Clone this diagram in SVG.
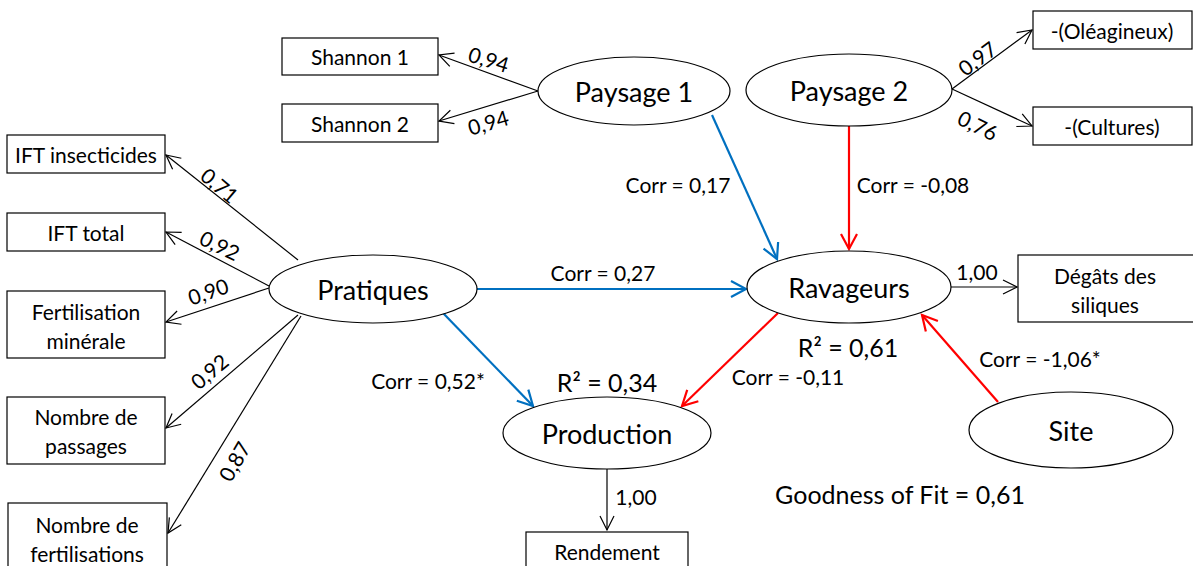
<svg xmlns="http://www.w3.org/2000/svg" width="1193" height="566" viewBox="0 0 1193 566">
  <style>
    text { font-family: Lato, "Open Sans", "Liberation Sans", sans-serif; fill: #000; text-anchor: middle; dominant-baseline: central; }
    .latent ellipse { fill: #fff; stroke: #000; stroke-width: 1.2; }
    .latent text { font-size: 27px; }
    .manifest rect { fill: #fff; stroke: #000; stroke-width: 1.2; }
    .manifest text { font-size: 21px; }
    .load { stroke: #000; stroke-width: 1.2; fill: none; marker-end: url(#arrowK); }
    .pos { stroke: #0070C0; stroke-width: 2.2; fill: none; marker-end: url(#arrowB); }
    .neg { stroke: #FF0000; stroke-width: 2.2; fill: none; marker-end: url(#arrowR); }
    .lbl { font-size: 21px; }
    .big { font-size: 25px; }
  </style>
  <defs>
    <marker id="arrowK" markerUnits="userSpaceOnUse" viewBox="-16 -9 18 18" markerWidth="18" markerHeight="18" refX="0" refY="0" orient="auto" overflow="visible">
      <path d="M-14,-7 L0,0 L-14,7" fill="none" stroke="#000" stroke-width="1.2"/>
    </marker>
    <marker id="arrowB" markerUnits="userSpaceOnUse" viewBox="-16 -9 18 18" markerWidth="18" markerHeight="18" refX="0" refY="0" orient="auto" overflow="visible">
      <path d="M-15,-8 L0,0 L-15,8" fill="none" stroke="#0070C0" stroke-width="2.2"/>
    </marker>
    <marker id="arrowR" markerUnits="userSpaceOnUse" viewBox="-16 -9 18 18" markerWidth="18" markerHeight="18" refX="0" refY="0" orient="auto" overflow="visible">
      <path d="M-15,-8 L0,0 L-15,8" fill="none" stroke="#FF0000" stroke-width="2.2"/>
    </marker>
  </defs>

  <rect width="1193" height="566" fill="#fff"/>

  <!-- connectors -->
  <g id="connectors">
    <!-- Paysage 1 loadings -->
    <line class="load" x1="538" y1="91" x2="439" y2="55"/>
    <line class="load" x1="538" y1="91" x2="439" y2="121"/>
    <!-- Paysage 2 loadings -->
    <line class="load" x1="952" y1="89" x2="1032" y2="30"/>
    <line class="load" x1="952" y1="89" x2="1032" y2="126"/>
    <!-- Pratiques loadings -->
    <line class="load" x1="298" y1="260" x2="166" y2="155"/>
    <line class="load" x1="269" y1="286" x2="166" y2="232"/>
    <line class="load" x1="269" y1="288" x2="166" y2="322"/>
    <line class="load" x1="298" y1="315" x2="166" y2="428"/>
    <line class="load" x1="301" y1="316" x2="168" y2="533"/>
    <!-- Ravageurs / Production measures -->
    <line class="load" x1="951" y1="287" x2="1017" y2="287"/>
    <line class="load" x1="607" y1="469" x2="607" y2="530"/>
    <!-- structural paths -->
    <line class="pos" x1="712" y1="115" x2="777" y2="259"/>
    <line class="neg" x1="849" y1="126" x2="849" y2="249"/>
    <line class="pos" x1="477" y1="289" x2="746" y2="289"/>
    <line class="pos" x1="443" y1="313" x2="533" y2="406"/>
    <line class="neg" x1="778" y1="313" x2="682" y2="406"/>
    <line class="neg" x1="998" y1="402" x2="922" y2="315"/>
  </g>

  <!-- connector labels -->
  <g id="labels">
    <text class="lbl" transform="translate(489,59) rotate(17)">0,94</text>
    <text class="lbl" transform="translate(488,122) rotate(-16)">0,94</text>
    <text class="lbl" transform="translate(977,58) rotate(-37)">0,97</text>
    <text class="lbl" transform="translate(978,125) rotate(26)">0,76</text>
    <text class="lbl" transform="translate(220,185) rotate(40)">0,71</text>
    <text class="lbl" transform="translate(220,245) rotate(26)">0,92</text>
    <text class="lbl" transform="translate(208,291) rotate(-19)">0,90</text>
    <text class="lbl" transform="translate(209,371) rotate(-40)">0,92</text>
    <text class="lbl" transform="translate(234,461) rotate(-60)">0,87</text>
    <text class="lbl" x="678" y="184">Corr = 0,17</text>
    <text class="lbl" x="913" y="184">Corr = -0,08</text>
    <text class="lbl" x="603" y="272">Corr = 0,27</text>
    <text class="lbl" x="977" y="271">1,00</text>
    <text class="lbl" x="1040" y="358">Corr = -1,06*</text>
    <text class="lbl" x="788" y="376">Corr = -0,11</text>
    <text class="lbl" x="428" y="380">Corr = 0,52*</text>
    <text class="lbl" x="636" y="496">1,00</text>
    <text class="big" x="848" y="347">R² = 0,61</text>
    <text class="big" x="607" y="382">R² = 0,34</text>
    <text class="big" x="900" y="494">Goodness of Fit = 0,61</text>
  </g>

  <!-- latent variables -->
  <g id="paysage1" class="latent">
    <ellipse cx="634" cy="91" rx="96" ry="34"/>
    <text x="634" y="91">Paysage 1</text>
  </g>
  <g id="paysage2" class="latent">
    <ellipse cx="849" cy="90" rx="103" ry="36"/>
    <text x="849" y="90">Paysage 2</text>
  </g>
  <g id="pratiques" class="latent">
    <ellipse cx="373" cy="289" rx="104" ry="34"/>
    <text x="373" y="289">Pratiques</text>
  </g>
  <g id="ravageurs" class="latent">
    <ellipse cx="849" cy="287" rx="102" ry="36"/>
    <text x="849" y="287">Ravageurs</text>
  </g>
  <g id="production" class="latent">
    <ellipse cx="607" cy="433" rx="104" ry="36"/>
    <text x="607" y="433">Production</text>
  </g>
  <g id="site" class="latent">
    <ellipse cx="1071" cy="430" rx="102" ry="38"/>
    <text x="1071" y="430">Site</text>
  </g>

  <!-- manifest variables -->
  <g id="shannon1" class="manifest">
    <rect x="282" y="38" width="156" height="37"/>
    <text x="360" y="56">Shannon 1</text>
  </g>
  <g id="shannon2" class="manifest">
    <rect x="282" y="104" width="156" height="38"/>
    <text x="360" y="123">Shannon 2</text>
  </g>
  <g id="oleagineux" class="manifest">
    <rect x="1033" y="11" width="159" height="38"/>
    <text x="1112" y="30">-(Oléagineux)</text>
  </g>
  <g id="cultures" class="manifest">
    <rect x="1033" y="107" width="159" height="38"/>
    <text x="1112" y="126">-(Cultures)</text>
  </g>
  <g id="ift-insecticides" class="manifest">
    <rect x="7" y="135" width="158" height="38"/>
    <text x="86" y="154">IFT insecticides</text>
  </g>
  <g id="ift-total" class="manifest">
    <rect x="7" y="213" width="158" height="38"/>
    <text x="86" y="232">IFT total</text>
  </g>
  <g id="fertilisation-minerale" class="manifest">
    <rect x="7" y="291" width="158" height="67"/>
    <text x="86" y="311">Fertilisation</text>
    <text x="86" y="340">minérale</text>
  </g>
  <g id="nombre-passages" class="manifest">
    <rect x="7" y="397" width="158" height="67"/>
    <text x="86" y="416">Nombre de</text>
    <text x="86" y="445">passages</text>
  </g>
  <g id="nombre-fertilisations" class="manifest">
    <rect x="8" y="503" width="159" height="70"/>
    <text x="87" y="524">Nombre de</text>
    <text x="87" y="553">fertilisations</text>
  </g>
  <g id="degats-siliques" class="manifest">
    <rect x="1018" y="255" width="180" height="67"/>
    <text x="1105" y="275">Dégâts des</text>
    <text x="1105" y="304">siliques</text>
  </g>
  <g id="rendement" class="manifest">
    <rect x="526" y="532" width="162" height="40"/>
    <text x="607" y="551">Rendement</text>
  </g>
</svg>
